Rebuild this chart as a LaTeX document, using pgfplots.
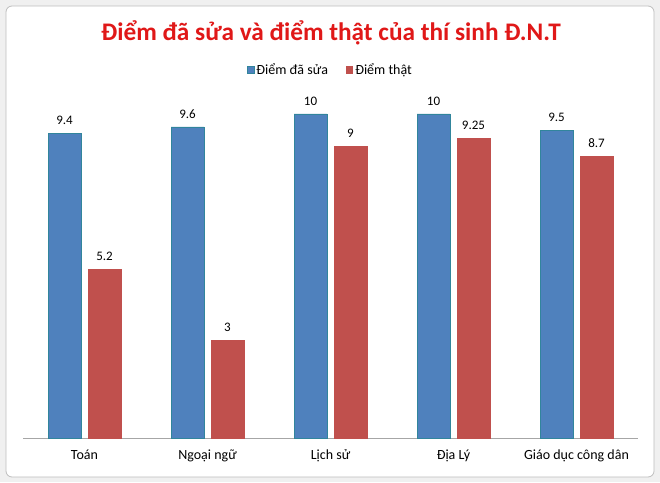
\documentclass[border=0pt]{standalone}
\usepackage{pgfplots}
\pgfplotsset{compat=1.18}
\usepackage{fontspec}
\setmainfont{Carlito}
\definecolor{sblue}{HTML}{4F81BD}
\definecolor{sblueb}{HTML}{31859C}
\definecolor{sred}{HTML}{C0504D}
\definecolor{ttl}{HTML}{E01818}
\definecolor{frm}{HTML}{BDBDBD}
\begin{document}
\begin{tikzpicture}[x=1pt,y=1pt]
\fill[gray!12] (0,0) rectangle (660,482);
\draw[frm,fill=white,rounded corners=6pt,line width=0.8pt] (6,5) rectangle (654,476);
\node[font=\fontsize{25.3}{30}\selectfont\bfseries,text=ttl] at (331,449) {Điểm đã sửa và điểm thật của thí sinh Đ.N.T};
\begin{axis}[
  at={(23pt,44pt)}, anchor=south west,
  scale only axis, width=615pt, height=324pt,
  xmin=-0.5, xmax=4.5, ymin=0, ymax=10,
  axis x line=bottom, axis y line=none,
  x axis line style={-, draw=gray!70, line width=1pt},
  xtick={0,1,2,3,4},
  xticklabels={Toán, Ngoại ngữ, Lịch sử, Địa Lý, Giáo dục công dân},
  major tick length=0pt,
  xticklabel style={font=\fontsize{14}{16}\selectfont, yshift=-8pt},
  ybar, bar width=33pt,
  clip=false,
  nodes near coords={\pgfmathprintnumber[assume math mode=true]{\pgfplotspointmeta}},
  nodes near coords style={font=\fontsize{13}{15}\selectfont, yshift=5pt},
  legend style={at={(axis description cs:0.5,1.1358)}, anchor=center, draw=none, legend columns=2, font=\fontsize{14}{16}\selectfont, /tikz/every even column/.append style={column sep=16pt}},
  legend image code/.code={\fill[#1] (0pt,-3pt) rectangle (6.5pt,3.5pt);},
]
\addplot[fill=sblue, draw=sblueb, line width=0.8pt, bar shift=-20pt] coordinates {(0,9.4) (1,9.6) (2,10) (3,10) (4,9.5)};
\addlegendentry{Điểm đã sửa}
\addplot[fill=sred, draw=sred, line width=0.8pt, bar shift=20pt] coordinates {(0,5.2) (1,3) (2,9) (3,9.25) (4,8.7)};
\addlegendentry{Điểm thật}
\end{axis}
\end{tikzpicture}
\end{document}
